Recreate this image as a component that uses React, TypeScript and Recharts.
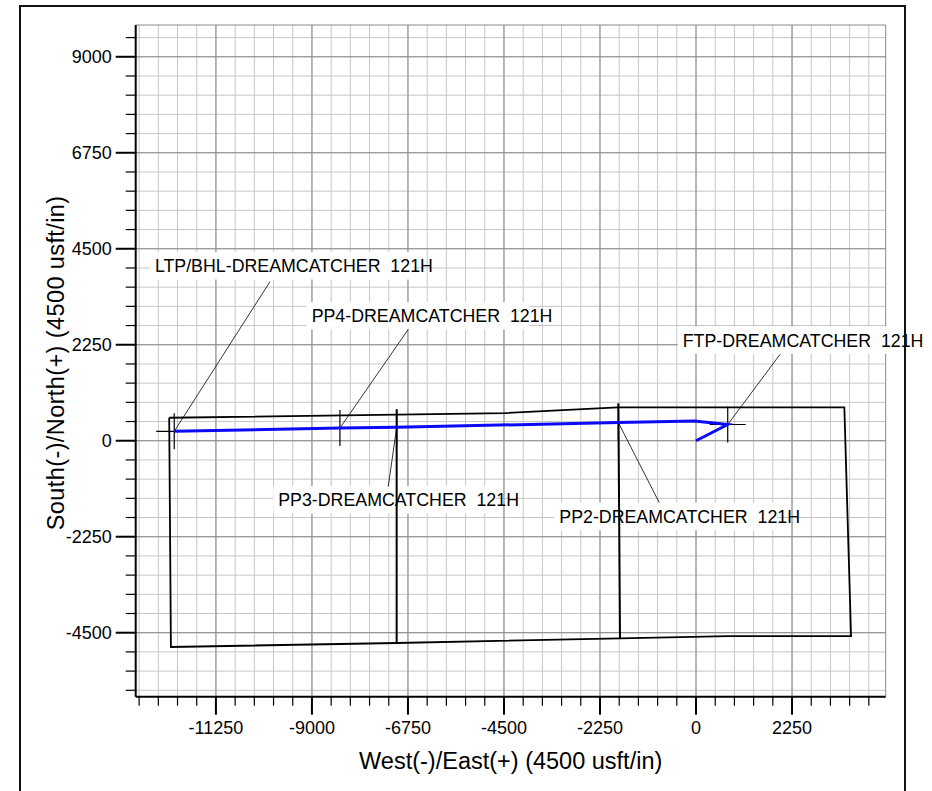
import React from "react";
import { ComposedChart, Scatter, XAxis, YAxis, CartesianGrid } from "recharts";

// axis ticks every 450 usft, labels every 2250
const xTicks = [
  -13050, -12600, -12150, -11700, -11250, -10800, -10350, -9900, -9450, -9000,
  -8550, -8100, -7650, -7200, -6750, -6300, -5850, -5400, -4950, -4500, -4050,
  -3600, -3150, -2700, -2250, -1800, -1350, -900, -450, 0, 450, 900, 1350, 1800,
  2250, 2700, 3150, 3600, 4050,
];
const yTicks = [
  -5850, -5400, -4950, -4500, -4050, -3600, -3150, -2700, -2250, -1800, -1350,
  -900, -450, 0, 450, 900, 1350, 1800, 2250, 2700, 3150, 3600, 4050, 4500, 4950,
  5400, 5850, 6300, 6750, 7200, 7650, 8100, 8550, 9000, 9450,
];
const xLabelTicks = [-11250, -9000, -6750, -4500, -2250, 0, 2250];
const yLabelTicks = [-4500, -2250, 0, 2250, 4500, 6750, 9000];

// lease / hard line outline
const leaseLine = [
  { x: -12345, y: 539 },
  { x: -4477, y: 649 },
  { x: -1835, y: 783 },
  { x: 3476, y: 783 },
  { x: 3633, y: -4577 },
  { x: 750, y: -4581 },
  { x: -1781, y: -4631 },
  { x: -7015, y: -4741 },
  { x: -12305, y: -4835 },
  { x: -12345, y: 539 },
];
const sectionPP3 = [
  { x: -7015, y: 735 },
  { x: -7015, y: -4741 },
];
const sectionPP2 = [
  { x: -1820, y: 877 },
  { x: -1781, y: -4631 },
];

// wellbore plan
const wellPath = [
  { x: 0, y: 0 },
  { x: 743, y: 380 },
  { x: -40, y: 465 },
  { x: -1821, y: 427 },
  { x: -7015, y: 314 },
  { x: -8344, y: 298 },
  { x: -12227, y: 220 },
];

// targets
const targetPoints = [
  { name: "LTP/BHL-DREAMCATCHER  121H", x: -12227, y: 220 },
  { name: "PP4-DREAMCATCHER  121H", x: -8344, y: 298 },
  { name: "PP3-DREAMCATCHER  121H", x: -7015, y: 314 },
  { name: "PP2-DREAMCATCHER  121H", x: -1821, y: 427 },
  { name: "FTP-DREAMCATCHER  121H", x: 743, y: 380 },
];
const leaderEnds = [
  { x: -9984, y: 3727 },
  { x: -6743, y: 2611 },
  { x: -7212, y: -1078 },
  { x: -860, y: -1453 },
  { x: 1969, y: 2025 },
];
const labelAnchors = [
  { x: -12680, y: 4095 },
  { x: -9007, y: 2923 },
  { x: -9790, y: -1390 },
  { x: -3204, y: -1777 },
  { x: -312, y: 2353 },
];

const FONT = "'Liberation Sans', Arial, Helvetica, sans-serif";

const XTick = (props: any) => {
  const { x, y, payload } = props;
  const major = xLabelTicks.includes(payload.value);
  return (
    <g>
      <line x1={x} x2={x} y1={y} y2={y + (major ? 18 : 9)} stroke="#000" strokeWidth={major ? 2 : 1.2} />
      {major && (
        <text x={x} y={y + 37.5} textAnchor="middle" fontSize={18} fontFamily={FONT} fill="#000">
          {payload.value}
        </text>
      )}
    </g>
  );
};

const YTick = (props: any) => {
  const { x, y, payload } = props;
  const major = yLabelTicks.includes(payload.value);
  return (
    <g>
      <line x1={x} x2={x - (major ? 20 : 10)} y1={y} y2={y} stroke="#000" strokeWidth={major ? 2 : 1.2} />
      {major && (
        <text x={x - 24} y={y} dy="0.36em" textAnchor="end" fontSize={18} fontFamily={FONT} fill="#000">
          {payload.value}
        </text>
      )}
    </g>
  );
};

const XTitle = (props: any) => {
  const vb = props.viewBox || {};
  return (
    <text
      x={vb.x + vb.width / 2}
      y={vb.y + 72}
      textAnchor="middle"
      fontSize={23.5}
      fontFamily={FONT}
      fill="#000"
    >
      West(-)/East(+) (4500 usft/in)
    </text>
  );
};

const YTitle = (props: any) => {
  const vb = props.viewBox || {};
  const cx = 56;
  const cy = vb.y + vb.height / 2 + 2;
  return (
    <text
      x={cx}
      y={cy}
      dy="0.36em"
      transform={`rotate(-90 ${cx} ${cy})`}
      textAnchor="middle"
      fontSize={23.5}
      letterSpacing={0.4}
      fontFamily={FONT}
      fill="#000"
    >
      South(-)/North(+) (4500 usft/in)
    </text>
  );
};

const noDot = () => <g />;

const CrossShape = (p: any) => (
  <g>
    <line x1={p.cx - 18} x2={p.cx + 18} y1={p.cy} y2={p.cy} stroke="#000" strokeWidth={1.2} />
    <line x1={p.cx} x2={p.cx} y1={p.cy - 18} y2={p.cy + 18} stroke="#000" strokeWidth={1.2} />
  </g>
);

const LabelShape = (p: any) => {
  const name: string = p.payload.name;
  const w = name.length * 10.4 - 6;
  return (
    <g>
      <rect x={p.cx - 5} y={p.cy - 14} width={w} height={27.5} fill="#fff" />
      <text
        x={p.cx}
        y={p.cy}
        dy="0.36em"
        fontSize={17.8}
        fontFamily={FONT}
        fill="#000"
        style={{ whiteSpace: "pre" }}
      >
        {name}
      </text>
    </g>
  );
};

export default function App() {
  const labels = targetPoints.map((t, i) => ({ name: t.name, ...labelAnchors[i] }));
  return (
    <div style={{ position: "relative", width: 932, height: 791, overflow: "hidden", background: "#fff" }}>
      <style>{`body{margin:0}`}</style>
      <ComposedChart
        width={932}
        height={791}
        margin={{ top: 25, right: 46.3, bottom: 34.3, left: 0 }}
      >
        <CartesianGrid
          stroke="#c6c6c6"
          strokeWidth={1}
          horizontalValues={yTicks}
          verticalValues={xTicks}
        />
        <CartesianGrid
          stroke="#8a8a8a"
          strokeWidth={1}
          horizontalValues={[...yLabelTicks, 9745]}
          verticalValues={[...xLabelTicks, 4445]}
        />
        <XAxis
          type="number"
          dataKey="x"
          domain={[-13130, 4445]}
          ticks={xTicks}
          interval={0}
          height={60}
          tickSize={0}
          tickMargin={0}
          tickLine={false}
          axisLine={{ stroke: "#000", strokeWidth: 2 }}
          tick={<XTick />}
          label={<XTitle />}
        />
        <YAxis
          type="number"
          dataKey="y"
          domain={[-6000, 9745]}
          ticks={yTicks}
          interval={0}
          width={135.7}
          tickSize={0}
          tickMargin={0}
          tickLine={false}
          axisLine={{ stroke: "#000", strokeWidth: 2 }}
          tick={<YTick />}
          label={<YTitle />}
        />
        {labels.map((l, i) => (
          <Scatter key={"lab" + i} data={[l]} shape={<LabelShape />} isAnimationActive={false} />
        ))}
        {targetPoints.map((t, i) => (
          <Scatter
            key={"lead" + i}
            data={[t, leaderEnds[i]]}
            shape={noDot}
            line={{ stroke: "#000", strokeWidth: 0.8 }}
            isAnimationActive={false}
          />
        ))}
        <Scatter data={leaseLine} shape={noDot} line={{ stroke: "#000", strokeWidth: 1.8 }} isAnimationActive={false} />
        <Scatter data={sectionPP3} shape={noDot} line={{ stroke: "#000", strokeWidth: 2 }} isAnimationActive={false} />
        <Scatter data={sectionPP2} shape={noDot} line={{ stroke: "#000", strokeWidth: 2 }} isAnimationActive={false} />
        <Scatter data={targetPoints} shape={<CrossShape />} isAnimationActive={false} />
        <Scatter data={wellPath} shape={noDot} line={{ stroke: "#0a0af5", strokeWidth: 3 }} isAnimationActive={false} />
      </ComposedChart>
      <div
        style={{
          position: "absolute",
          left: 19,
          top: 5,
          width: 887,
          height: 900,
          border: "2px solid #111",
          boxSizing: "border-box",
          pointerEvents: "none",
        }}
      />
    </div>
  );
}
